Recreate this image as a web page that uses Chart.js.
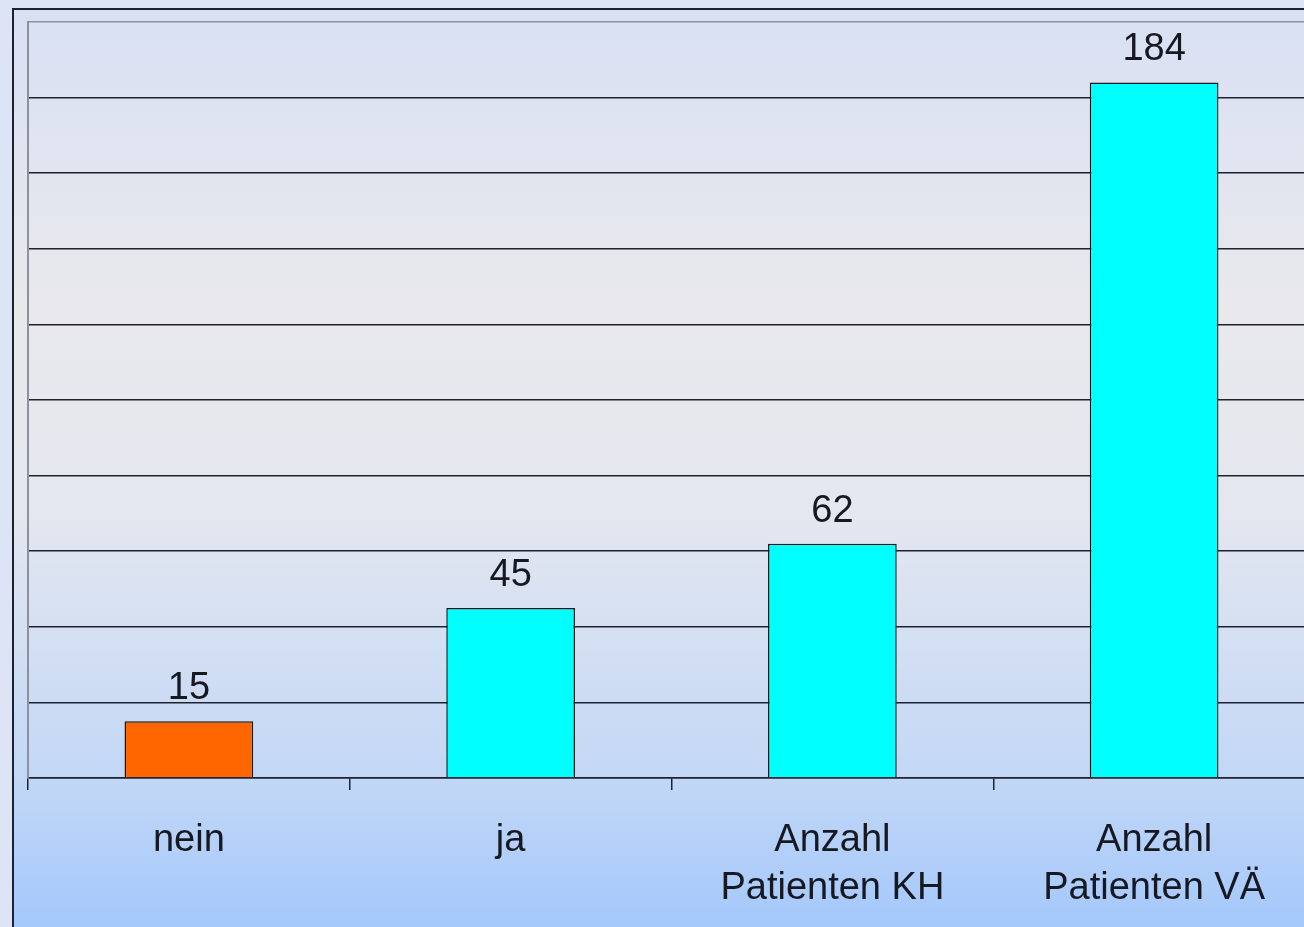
<!DOCTYPE html>
<html>
<head>
<meta charset="utf-8">
<script src="https://cdn.jsdelivr.net/npm/chart.js@4/dist/chart.umd.min.js"></script>
<style>
  html, body { margin: 0; padding: 0; overflow: hidden; background: #dce4f5; }
  #wrap { position: relative; width: 1330px; height: 927px; }
</style>
</head>
<body>
<div id="wrap"><canvas id="chart"></canvas></div>
<script>
// data
const categories = ['nein', 'ja', ['Anzahl', 'Patienten KH'], ['Anzahl', 'Patienten VÄ']];
const values = [15, 45, 62, 184];
const barColors = ['#ff6600', '#00ffff', '#00ffff', '#00ffff'];
const yMax = 200;
const yStep = 20;

const FONT = '"Liberation Sans", Arial, sans-serif';

// page background + outer frame
const backdrop = {
  id: 'backdrop',
  beforeDraw(chart){
    const {ctx, width, height} = chart;
    const g = ctx.createLinearGradient(0, 0, 0, height);
    g.addColorStop(0, '#d8e0f4');
    g.addColorStop(0.33, '#e9e9ec');
    g.addColorStop(0.55, '#e4e7ef');
    g.addColorStop(0.84, '#c2d7f6');
    g.addColorStop(1, '#a4c8fb');
    ctx.save();
    ctx.fillStyle = g;
    ctx.fillRect(0, 0, width, height);
    ctx.fillStyle = '#dce4f5';
    ctx.fillRect(0, 0, 12, height);
    ctx.fillRect(0, 0, width, 8);
    ctx.strokeStyle = '#1e2230';
    ctx.lineWidth = 2;
    ctx.beginPath();
    ctx.moveTo(13, height + 5);
    ctx.lineTo(13, 9);
    ctx.lineTo(width + 5, 9);
    ctx.stroke();
    ctx.restore();
  }
};

// value labels above the bars
const valueLabels = {
  id: 'valueLabels',
  afterDatasetsDraw(chart){
    const {ctx} = chart;
    const meta = chart.getDatasetMeta(0);
    ctx.save();
    ctx.font = '38px ' + FONT;
    ctx.fillStyle = '#161822';
    ctx.textAlign = 'center';
    ctx.textBaseline = 'alphabetic';
    meta.data.forEach((bar, i) => {
      ctx.fillText(String(values[i]), bar.x, bar.y - 22);
    });
    ctx.restore();
  }
};

new Chart(document.getElementById('chart').getContext('2d'), {
  type: 'bar',
  data: {
    labels: categories,
    datasets: [{
      data: values,
      backgroundColor: barColors,
      borderColor: '#1a1a1a',
      borderWidth: 1.5,
      borderSkipped: 'bottom',
      barPercentage: 0.4,
      categoryPercentage: 1
    }]
  },
  options: {
    responsive: true,
    maintainAspectRatio: false,
    animation: false,
    layout: { padding: { left: 28, top: 22, right: 15, bottom: 0 } },
    plugins: { legend: { display: false }, tooltip: { enabled: false } },
    scales: {
      x: {
        afterFit(scale){ scale.height = 149; },
        grid: { offset: true, drawOnChartArea: false, drawTicks: true, tickLength: 12, color: '#1e2230', lineWidth: 1.5 },
        border: { display: true, color: '#1e2230', width: 1.5 },
        ticks: {
          color: '#161822',
          padding: 26,
          maxRotation: 0,
          autoSkip: false,
          font: { family: FONT, size: 38, lineHeight: 1.27 }
        }
      },
      y: {
        min: 0,
        max: yMax,
        ticks: { display: false, stepSize: yStep },
        grid: {
          drawTicks: false,
          lineWidth: 1.5,
          color: c => (c.tick && c.tick.value === yMax) ? '#8c919c' : '#1e2230'
        },
        border: { display: true, color: '#8c919c', width: 2 }
      }
    }
  },
  plugins: [backdrop, valueLabels]
});
</script>
</body>
</html>
